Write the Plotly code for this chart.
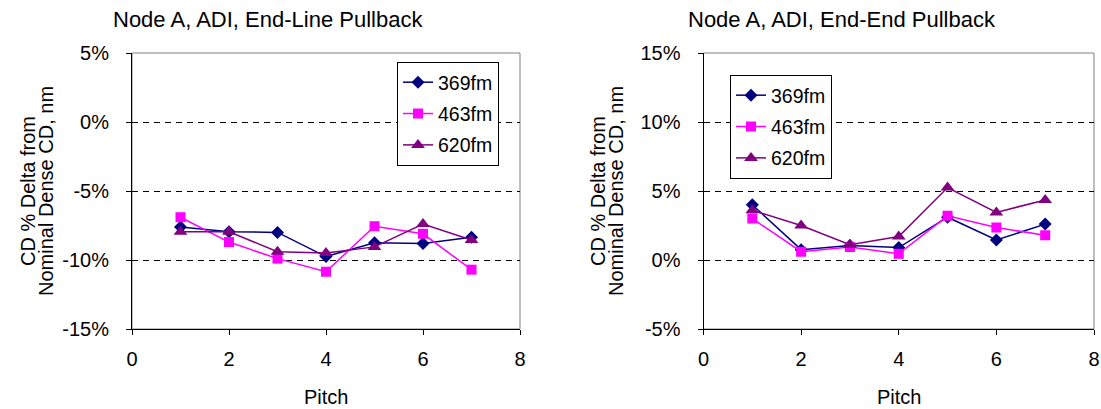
import plotly.graph_objects as go

pitch = [1, 2, 3, 4, 5, 6, 7]
series_names = ["369fm", "463fm", "620fm"]

left_369 = [-7.6, -7.95, -8.0, -9.75, -8.75, -8.8, -8.35]
left_463 = [-6.9, -8.7, -9.9, -10.85, -7.55, -8.1, -10.7]
left_620 = [-7.95, -7.95, -9.4, -9.5, -9.05, -7.4, -8.55]

right_369 = [4.0, 0.75, 1.05, 0.9, 3.1, 1.45, 2.6]
right_463 = [3.0, 0.6, 0.95, 0.45, 3.2, 2.35, 1.8]
right_620 = [3.6, 2.5, 1.1, 1.7, 5.25, 3.45, 4.35]

x_ticks = [0, 2, 4, 6, 8]
left_yticks = [5, 0, -5, -10, -15]
left_ylabels = ["5%", "0%", "-5%", "-10%", "-15%"]
right_yticks = [15, 10, 5, 0, -5]
right_ylabels = ["15%", "10%", "5%", "0%", "-5%"]

left_title = "Node A, ADI, End-Line Pullback"
right_title = "Node A, ADI, End-End Pullback"
y_title_lines = ["CD % Delta from", "Nominal Dense CD, nm"]
x_title = "Pitch"

colors = ["#000080", "#FF00FF", "#800080"]
symbols = ["diamond", "square", "triangle-up"]
msizes = [10, 10, 12]

FONT = "Liberation Sans, Arial, sans-serif"

fig = go.Figure()

for vals, name, c, s, ms in zip([left_369, left_463, left_620], series_names, colors, symbols, msizes):
    fig.add_trace(go.Scatter(x=pitch, y=vals, name=name, mode="lines+markers",
                             line=dict(color=c, width=1.5),
                             marker=dict(symbol=s, size=ms, color=c),
                             xaxis="x", yaxis="y", legend="legend",
                             legendgroup="L" + name))
for vals, name, c, s, ms in zip([right_369, right_463, right_620], series_names, colors, symbols, msizes):
    fig.add_trace(go.Scatter(x=pitch, y=vals, name=name, mode="lines+markers",
                             line=dict(color=c, width=1.5),
                             marker=dict(symbol=s, size=ms, color=c),
                             xaxis="x2", yaxis="y2", legend="legend2",
                             legendgroup="R" + name))

W, H = 1101, 409
top_px, bot_px = 53, 329
ydom = [1 - bot_px / H, 1 - top_px / H]
lx = [132 / W, 520 / W]
rx = [703.5 / W, 1094 / W]

xcommon = dict(range=[0, 8], tickvals=x_ticks, ticktext=[str(v) for v in x_ticks],
               ticks="outside", ticklen=5, tickcolor="black", showline=True,
               linecolor="black", linewidth=1, showgrid=False, zeroline=False,
               automargin=False,
               tickfont=dict(size=20, color="black", family=FONT), ticklabelstandoff=7)
ycommon = dict(ticks="outside", ticklen=5, tickcolor="black", showline=True,
               linecolor="black", linewidth=1, showgrid=True, gridcolor="black",
               griddash="6px,5px", gridwidth=1, zeroline=False, automargin=False,
               tickfont=dict(size=20, color="black", family=FONT), ticklabelstandoff=13)

fig.update_layout(
    template="none",
    width=W, height=H, autosize=False,
    margin=dict(l=0, r=0, t=0, b=0, pad=0),
    paper_bgcolor="white", plot_bgcolor="white",
    font=dict(family=FONT, color="black", size=20),
    xaxis=dict(domain=lx, anchor="y", **xcommon),
    yaxis=dict(domain=ydom, anchor="x", range=[-15, 5], tickvals=left_yticks,
               ticktext=left_ylabels, **ycommon),
    xaxis2=dict(domain=rx, anchor="y2", **xcommon),
    yaxis2=dict(domain=ydom, anchor="x2", range=[-5, 15], tickvals=right_yticks,
                ticktext=right_ylabels, **ycommon),
    legend=dict(x=397 / W, y=1 - 62 / H, xanchor="left", yanchor="top",
                bordercolor="black", borderwidth=1, bgcolor="white",
                font=dict(size=19.5, family=FONT, color="black"), tracegroupgap=3),
    legend2=dict(x=730 / W, y=1 - 75 / H, xanchor="left", yanchor="top",
                 bordercolor="black", borderwidth=1, bgcolor="white",
                 font=dict(size=19.5, family=FONT, color="black"), tracegroupgap=3),
    showlegend=True,
)

shapes = []
for xr, yr in [("x domain", "y domain"), ("x2 domain", "y2 domain")]:
    shapes.append(dict(type="rect", xref=xr, yref=yr, x0=0, x1=1, y0=0, y1=1,
                       line=dict(color="#808080", width=1), layer="below"))
fig.update_layout(shapes=shapes)

ann = []
ann.append(dict(text=left_title, x=111 / W, y=1 - 19 / H, xref="paper", yref="paper",
                xanchor="left", yanchor="middle", showarrow=False, font=dict(size=22)))
ann.append(dict(text=right_title, x=686 / W, y=1 - 19 / H, xref="paper", yref="paper",
                xanchor="left", yanchor="middle", showarrow=False, font=dict(size=22)))
for cx in [(lx[0] + lx[1]) / 2, (rx[0] + rx[1]) / 2]:
    ann.append(dict(text=x_title, x=cx, y=1 - 397 / H, xref="paper", yref="paper",
                    xanchor="center", yanchor="middle", showarrow=False, font=dict(size=20)))
ymid = 1 - ((top_px + bot_px) / 2) / H
for xc in [28, 598]:
    for i, line in enumerate(y_title_lines):
        ann.append(dict(text=line, x=(xc + i * 18) / W, y=ymid, xref="paper", yref="paper",
                        xanchor="center", yanchor="middle", textangle=-90,
                        showarrow=False, font=dict(size=20)))
fig.update_layout(annotations=ann)

fig.write_html("out.html", config={"displayModeBar": False},
               post_script="document.body.style.margin='0px';")
